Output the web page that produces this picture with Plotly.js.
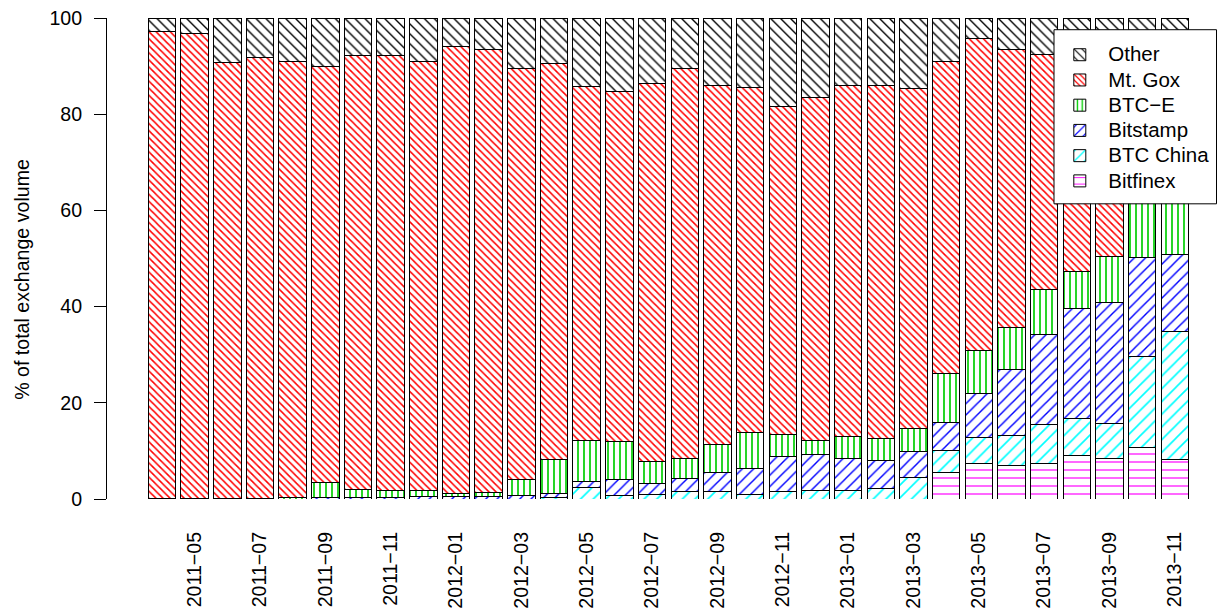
<!DOCTYPE html>
<html>
<head>
<meta charset="utf-8">
<script src="https://cdn.plot.ly/plotly-3.0.1.min.js"></script>
<style>
html,body{margin:0;padding:0;background:#fff;}
#chart{width:1217px;height:612px;}
</style>
</head>
<body>
<div id="chart"></div>
<script>
// Months (one bar each)
const months = ["2011-04","2011-05","2011-06","2011-07","2011-08","2011-09","2011-10","2011-11","2011-12",
  "2012-01","2012-02","2012-03","2012-04","2012-05","2012-06","2012-07","2012-08","2012-09","2012-10","2012-11","2012-12",
  "2013-01","2013-02","2013-03","2013-04","2013-05","2013-06","2013-07","2013-08","2013-09","2013-10","2013-11"];

// Tick labels shown (every other month)
const tickMonths = ["2011-05","2011-07","2011-09","2011-11","2012-01","2012-03","2012-05","2012-07",
  "2012-09","2012-11","2013-01","2013-03","2013-05","2013-07","2013-09","2013-11"];
const tickLabels = tickMonths.map(m => m.replace("-", "\u2212"));

// Shares of total exchange volume (%), bottom to top
const bitfinex = [0,0,0,0,0,0,0,0,0, 0,0,0,0,0,0,0,0,0,0,0,0, 0,0,0,5.5,7.4,6.9,7.4,9.0,8.5,10.7,8.3];
const btcChina = [0,0,0,0,0,0,0,0,0, 0,0,0,0.3,2.4,0.7,1.0,1.5,1.5,1.0,1.6,1.8, 1.8,2.1,4.4,4.5,5.4,6.4,8.1,7.8,7.2,18.9,26.6];
const bitstamp = [0,0,0,0,0,0.3,0.3,0.3,0.6, 0.5,0.5,0.8,0.8,1.2,3.4,2.2,2.7,4.0,5.4,7.3,7.4, 6.6,6.0,5.5,6.0,9.2,13.7,18.8,22.8,25.1,20.7,15.9];
const btce     = [0.1,0.1,0.1,0.1,0.3,3.2,1.7,1.4,1.1, 0.7,0.9,3.2,7.2,8.6,7.8,4.7,4.3,5.9,7.5,4.5,2.9, 4.5,4.5,4.7,10.1,8.9,8.6,9.2,7.8,9.6,15.7,14.2];
const mtgox    = [97.0,96.7,90.7,91.6,90.7,86.4,90.2,90.5,89.3, 92.9,92.0,85.5,82.3,73.6,72.8,78.5,81.1,74.6,71.7,68.3,71.4, 73.1,73.4,70.7,64.9,64.9,57.8,48.9,43.6,38.6,22.0,22.0];
const other    = [2.9,3.2,9.2,8.3,9.0,10.1,7.8,7.8,9.0, 5.9,6.6,10.5,9.4,14.2,15.3,13.6,10.4,14.0,14.4,18.3,16.5, 14.0,14.0,14.7,9.0,4.2,6.6,7.6,9.0,11.0,12.0,13.0];

const font = "Liberation Sans, Arial, Helvetica, sans-serif";
const FS = 19.6;      // main text size
const LEG_FS = 20.5;  // legend text size

function mk(name, y, color, shape, size, solidity) {
  return {
    type: "bar", name: '<span style="font-size:' + LEG_FS + 'px">' + name + '</span>',
    x: months, y: y, legendgroup: name,
    marker: {
      color: "white",
      line: {color: "black", width: 1},
      pattern: {shape: shape, fgcolor: color, bgcolor: "white", size: size, solidity: solidity, fillmode: "replace"}
    }
  };
}

const traces = [
  mk("Bitfinex", bitfinex, "#FF00FF", "-", 8, 0.15),
  mk("BTC China", btcChina, "#00FFFF", "/", 9, 0.18),
  mk("Bitstamp", bitstamp, "#0000FF", "/", 8, 0.18),
  mk("BTC\u2212E", btce, "#00CD00", "|", 6, 0.28),
  mk("Mt. Gox", mtgox, "#FF0000", "\\", 5, 0.3),
  mk("Other", other, "#000000", "\\", 7, 0.2)
];

const L = 107, R = 10, T = 18.3, B = 113;
const W = 1217 - L - R, H = 612 - T - B;
const pxPerBar = 32.67;
const x0 = -(162 - L) / pxPerBar;
const x1 = x0 + W / pxPerBar;

// legend frame (pixels)
const box = {l: 1054, r: 1216.5, t: 30, b: 204};
const px2x = p => (p - L) / W;
const py2y = p => (612 - B - p) / H;

const layout = {
  width: 1217, height: 612,
  margin: {l: L, r: R, t: T, b: B, pad: 0, autoexpand: false},
  paper_bgcolor: "white", plot_bgcolor: "white",
  font: {family: font, size: FS, color: "black"},
  barmode: "stack", bargap: 0.16,
  showlegend: true,
  legend: {
    x: px2x(box.l - 2.7), y: py2y(box.t + 7.4), xanchor: "left", yanchor: "top",
    bgcolor: "rgba(0,0,0,0)", borderwidth: 0,
    font: {family: font, size: 17.1, color: "black"},
    traceorder: "reversed", tracegroupgap: 0, itemwidth: 47
  },
  xaxis: {
    type: "category", range: [x0, x1],
    showgrid: false, zeroline: false, showline: false,
    ticks: "", tickmode: "array", tickvals: tickMonths, ticktext: tickLabels,
    tickangle: -90, ticklabelstandoff: 28,
    tickfont: {family: font, size: FS, color: "black"}
  },
  yaxis: {
    range: [0, 100], showgrid: false, zeroline: false,
    showline: true, linecolor: "black", linewidth: 1,
    ticks: "outside", ticklen: 12, tickwidth: 1, tickcolor: "black",
    tickvals: [0, 20, 40, 60, 80, 100], ticklabelstandoff: 8,
    tickfont: {family: font, size: FS, color: "black"}
  },
  shapes: [{
    type: "rect", xref: "paper", yref: "paper", layer: "above",
    x0: px2x(box.l), x1: px2x(box.r), y0: py2y(box.b), y1: py2y(box.t),
    fillcolor: "white", line: {color: "black", width: 1}
  }],
  annotations: [{
    text: "% of total exchange volume", textangle: -90,
    xref: "paper", yref: "paper",
    x: px2x(22), y: py2y(280),
    xanchor: "center", yanchor: "middle", showarrow: false,
    font: {family: font, size: FS, color: "black"}
  }]
};

Plotly.newPlot("chart", traces, layout, {displayModeBar: false, staticPlot: true});
</script>
</body>
</html>
